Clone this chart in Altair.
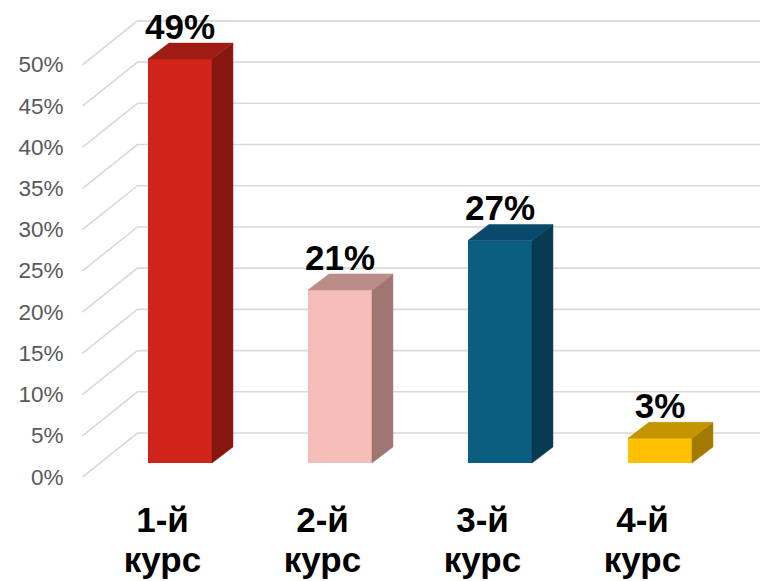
import altair as alt
import pandas as pd

# ---- data ----
course_lines = [["1-й", "курс"], ["2-й", "курс"], ["3-й", "курс"], ["4-й", "курс"]]
shares = [49, 21, 27, 3]
front_colors = ["#D0241B", "#F5BCB8", "#0B5E80", "#FFC000"]
side_colors = ["#86160F", "#9F7672", "#083A52", "#A27A00"]
top_colors = ["#9E1C14", "#BC8C88", "#09496A", "#C49300"]
tick_values = list(range(0, 51, 5))

# ---- 3D styling constants (in scale units) ----
HALF_W = 0.2
BAR_DX, BAR_DY = 0.131, 1.94      # bar depth
BACK_DX, BACK_DY = 0.234, 3.64    # back wall relative to bar front plane
FRONT_DX, FRONT_DY = -0.11, -1.70 # floor front edge relative to bar front plane
WALL_X = -0.5
X_DOMAIN = [-0.6875, 3.625]
Y_DOMAIN = [-4, 55.2]
FONT = "Liberation Sans"

# ---- tables built from the arrays ----
front_rows, side_rows, top_rows, label_rows = [], [], [], []
for i, (v, fc, sc, tc) in enumerate(zip(shares, front_colors, side_colors, top_colors)):
    xl, xr = i - HALF_W, i + HALF_W
    front_rows.append({"x": xl, "x2": xr, "y": 0, "y2": v, "fill": fc})
    side_rows += [
        {"face": f"s{i}", "x": xr, "y": 0, "y2": v, "fill": sc},
        {"face": f"s{i}", "x": xr + BAR_DX, "y": BAR_DY, "y2": v + BAR_DY, "fill": sc},
    ]
    top_rows += [
        {"face": f"t{i}", "x": xl, "y": v, "y2": v, "fill": tc},
        {"face": f"t{i}", "x": xl + BAR_DX, "y": v, "y2": v + BAR_DY, "fill": tc},
        {"face": f"t{i}", "x": xr, "y": v, "y2": v + BAR_DY, "fill": tc},
        {"face": f"t{i}", "x": xr + BAR_DX, "y": v + BAR_DY, "y2": v + BAR_DY, "fill": tc},
    ]
    label_rows.append({"x": i, "y": v + BAR_DY, "label": f"{v}%"})

grid_rows = []
for t in tick_values:
    grid_rows += [
        {"tick": t, "seq": 0, "x": WALL_X + FRONT_DX, "y": t + FRONT_DY},
        {"tick": t, "seq": 1, "x": WALL_X + BACK_DX, "y": t + BACK_DY},
        {"tick": t, "seq": 2, "x": X_DOMAIN[1], "y": t + BACK_DY},
    ]

front_df = pd.DataFrame(front_rows)
side_df = pd.DataFrame(side_rows)
top_df = pd.DataFrame(top_rows)
label_df = pd.DataFrame(label_rows)
grid_df = pd.DataFrame(grid_rows)

x_label_expr = "[" + ",".join(
    "[" + ",".join(f"'{s}'" for s in lines) + "]" for lines in course_lines
) + "][datum.value]"

x_scale = alt.Scale(domain=X_DOMAIN, nice=False, zero=False)
y_scale = alt.Scale(domain=Y_DOMAIN, nice=False, zero=False)
x_axis = alt.Axis(values=list(range(len(shares))), labelExpr=x_label_expr, title=None,
                  domain=False, ticks=False, grid=False, labelOffset=-18, labelPadding=7,
                  labelFontSize=35, labelFont=FONT, labelFontWeight="bold", labelColor="black",
                  labelLineHeight=40, labelFlush=False, labelOverlap=False, labelBound=False)
y_axis = alt.Axis(values=tick_values, labelExpr="datum.value + '%'", title=None,
                  domain=False, ticks=False, grid=False, labelOffset=14, labelPadding=7,
                  labelFontSize=22.5, labelFont=FONT, labelColor="#595959",
                  labelFlush=False, labelOverlap=False, labelBound=False)

X = alt.X("x:Q", scale=x_scale, axis=x_axis)
Y = alt.Y("y:Q", scale=y_scale, axis=y_axis, stack=None)

grid = alt.Chart(grid_df).mark_line(color="#D9D9D9", strokeWidth=1.6).encode(
    x=X, y=Y, detail="tick:N", order="seq:Q"
)
front = alt.Chart(front_df).mark_rect().encode(
    x=X, x2="x2:Q", y=Y, y2="y2:Q",
    fill=alt.Fill("fill:N", scale=None),
)
side = alt.Chart(side_df).mark_area(strokeWidth=0.5, interpolate="linear").encode(
    x=X, y=Y, y2="y2:Q", detail="face:N",
    fill=alt.Fill("fill:N", scale=None), stroke=alt.Stroke("fill:N", scale=None),
)
top = alt.Chart(top_df).mark_area(strokeWidth=0.5, interpolate="linear").encode(
    x=X, y=Y, y2="y2:Q", detail="face:N",
    fill=alt.Fill("fill:N", scale=None), stroke=alt.Stroke("fill:N", scale=None),
)
labels = alt.Chart(label_df).mark_text(
    baseline="alphabetic", dy=-4, fontSize=35, fontWeight="bold", font=FONT, color="black"
).encode(x=X, y=Y, text="label:N")

chart = alt.layer(grid, front, side, top, labels).properties(
    width=690, height=488,
    padding={"left": 62, "top": 0, "right": 0, "bottom": 85},
    autosize="none",
    background="white",
).configure_view(stroke=None)

chart.save("out.html", embed_options={"renderer": "svg", "actions": False})
